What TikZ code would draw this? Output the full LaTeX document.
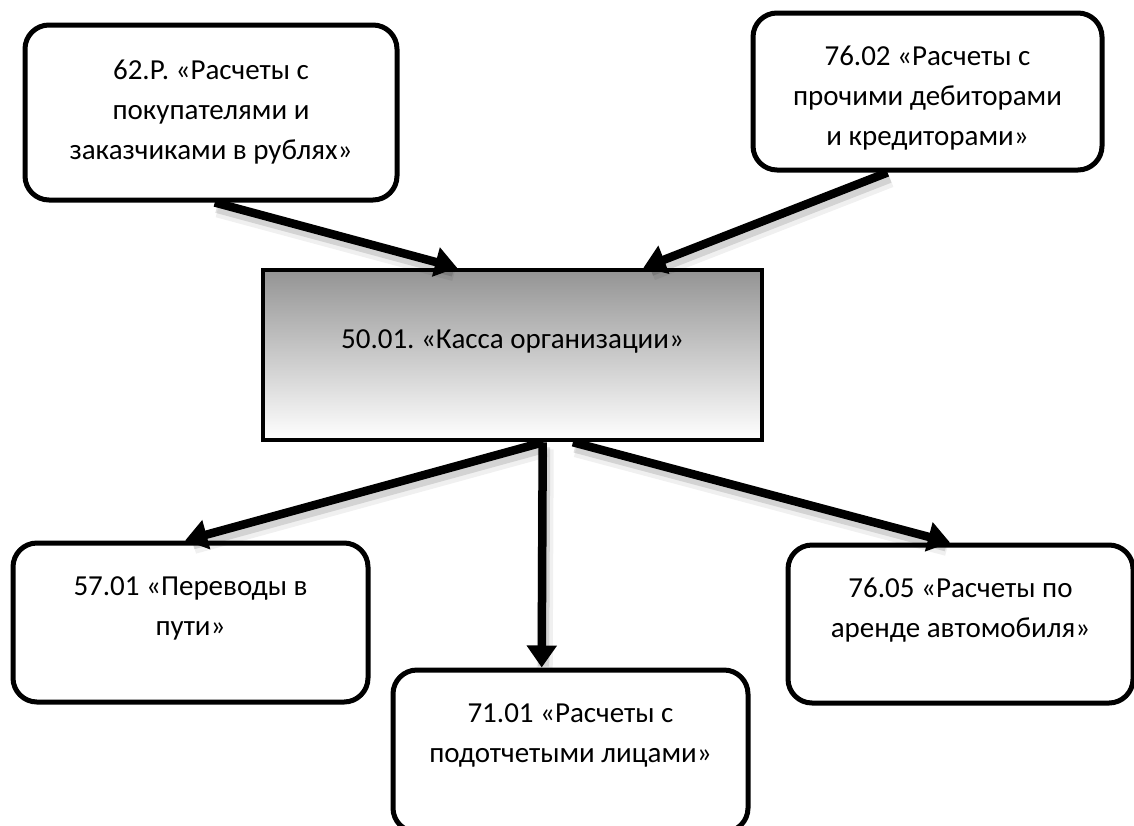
\documentclass[tikz,border=0pt]{standalone}
\usepackage{fontspec}
\setmainfont{Carlito}
\usetikzlibrary{arrows.meta,calc}
\frenchspacing
\tikzset{
  rbox/.style={draw=black, line width=5pt, rounded corners=24pt, fill=white, inner sep=0pt},
  cbox/.style={draw=black, line width=4.5pt, top color=black!42, bottom color=white, inner sep=0pt},
  txt/.style={align=center, font=\fontsize{29}{40}\selectfont, inner sep=0pt, text=black},
  conn/.style={line width=8.5pt, -{Triangle[length=22pt,width=29pt]}},
  connshadow/.style={line width=11pt, black, opacity=0.12, shorten >=6pt}
}
\begin{document}
\begin{tikzpicture}[x=1pt,y=-1pt]
\useasboundingbox (0,0) rectangle (1134,825);
% boxes
\node[rbox, minimum width=372pt, minimum height=175pt] (b62) at (211,112.5) {};
\node[rbox, minimum width=349pt, minimum height=157pt] (b7602) at (927.5,91.5) {};
\node[cbox, minimum width=499pt, minimum height=170pt] (c) at (512.5,355) {};
\node[rbox, minimum width=355pt, minimum height=159pt] (b57) at (190.5,622.5) {};
\node[rbox, minimum width=355pt, minimum height=162pt] (b71) at (570.5,751) {};
\node[rbox, minimum width=345pt, minimum height=158pt] (b7605) at (960.5,624) {};
% texts
\node[txt] (t62) at (211,112) {62.Р. «Расчеты с\\покупателями и\\заказчиками в рублях»};
\node[txt] (t7602) at (927.5,98) {76.02 «Расчеты с\\прочими дебиторами\\и кредиторами»};
\node[txt] (tc) at (512.5,341) {50.01. «Касса организации»};
\node[txt] (t57) at (190.5,608) {57.01 «Переводы в\\пути»};
\node[txt] (t71) at (570.5,735) {71.01 «Расчеты с\\подотчетыми лицами»};
\node[txt] (t7605) at (960.5,610) {76.05 «Расчеты по\\аренде автомобиля»};
% anchor points
\coordinate (s1) at ($(b62.south west)!0.51!(b62.south east)$);
\coordinate (e1) at ($(c.north west)!0.39!(c.north east)$);
\coordinate (s2) at ($(b7602.south west)!0.387!(b7602.south east)$);
\coordinate (e2) at ($(c.north west)!0.76!(c.north east)$);
\coordinate (s3) at ($(c.south west)!0.561!(c.south east)$);
\coordinate (e3) at ($(b57.north west)!0.485!(b57.north east)$);
\coordinate (s4) at ($(c.south west)!0.56!(c.south east)$);
\coordinate (e4) at ($(b71.north west)!0.42!(b71.north east)$);
\coordinate (s5) at ($(c.south west)!0.62!(c.south east)$);
\coordinate (e5) at ($(b7605.north west)!0.47!(b7605.north east)$);
% shadows
\foreach \a/\b in {s1/e1,s2/e2,s3/e3,s4/e4,s5/e5}{
  \draw[connshadow] ([shift={(2,5)}]\a) -- ([shift={(2,5)}]\b);
  \draw[connshadow, line width=16pt, opacity=0.06] ([shift={(3,7)}]\a) -- ([shift={(3,7)}]\b);
}
% connectors
\draw[conn] (s1) -- (e1);
\draw[conn] (s2) -- (e2);
\draw[conn] (s3) -- (e3);
\draw[conn] (s4) -- (e4);
\draw[conn] (s5) -- (e5);
\end{tikzpicture}
\end{document}
